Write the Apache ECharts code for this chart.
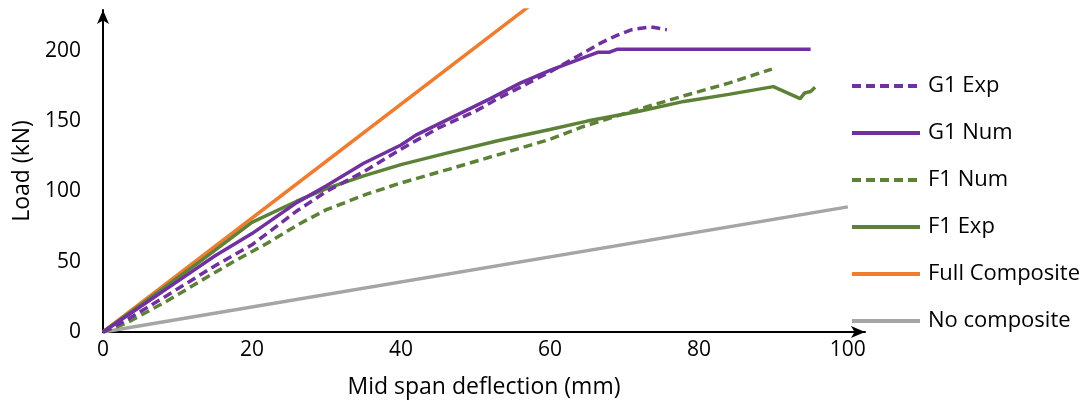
<!DOCTYPE html>
<html>
<head>
<meta charset="utf-8">
<script src="https://cdn.jsdelivr.net/npm/echarts@6/dist/echarts.min.js"></script>
<style>
	html, body { margin: 0; padding: 0; background: #fff; }
	#main { width: 1086px; height: 404px; }
</style>
</head>
<body>
<div id="main"></div>
<script>
	// load-deflection data, [deflection mm, load kN]
	var g1Exp = [[0, 0], [3, 8], [8.6, 26], [15, 47], [20, 62], [26, 86], [30, 100], [35, 114], [40, 130], [45, 145], [50, 157], [53, 166], [56, 174], [60, 185], [64, 197], [67, 206], [69, 211], [71, 215], [73.5, 217], [75.7, 215]];
	var g1Num = [[0, 0], [5, 18], [10, 36], [15, 54], [20, 70], [26, 92], [30, 104], [35, 120], [40, 133], [42, 140], [47, 153], [52, 166], [56, 177], [60, 186], [64, 194], [66.5, 199], [68, 199], [69, 201], [95, 201]];
	var f1Num = [[0, 0], [3, 6], [8.6, 22], [13, 36], [17.5, 50], [22, 63], [26.4, 77], [30, 87], [35.4, 98], [40, 106], [46.6, 116], [53, 126], [60, 137], [64.4, 146], [71, 157], [78, 168], [84, 177], [89.8, 187]];
	var f1Exp = [[0, 0], [6, 23], [13, 50], [20, 78], [26, 93], [30, 102], [35, 111], [40, 119], [46, 127], [53, 136], [60, 144], [65, 150], [72, 157], [78, 164], [84, 169], [90, 174.5], [93.6, 166], [94.2, 170], [95, 171], [95.6, 174]];
	var fullComposite = [[0, 0], [60, 243]];
	var noComposite = [[0, 0], [100, 89]];

	var legendNames = ['G1 Exp', 'G1 Num', 'F1 Num', 'F1 Exp', 'Full Composite', 'No composite'];

	var PURPLE = '#7030A0', GREEN = '#5E8138', ORANGE = '#ED7D31', GREY = '#A5A5A5';
	var FONT = 'Open Sans';

	function line(name, data, color, dashed) {
		return {
			name: name,
			type: 'line',
			data: data,
			symbol: 'none',
			lineStyle: { color: color, width: 3.5, type: dashed ? [9, 5] : 'solid' },
			itemStyle: { color: color }
		};
	}

	var myChart = echarts.init(document.getElementById('main'));

	var option = {
		animation: false,
		textStyle: { fontFamily: FONT },
		grid: { left: 103, right: 221, top: 10, bottom: 71 },
		legend: {
			data: legendNames,
			orient: 'vertical',
			left: 845,
			top: 70,
			itemWidth: 68,
			itemHeight: 14,
			itemGap: 25,
			itemStyle: { opacity: 0 },
			lineStyle: { width: 4 },
			textStyle: { fontSize: 22, color: '#000', fontFamily: FONT, padding: [0, 0, 0, 3] }
		},
		xAxis: {
			type: 'value',
			min: 0,
			max: 102.3,
			interval: 20,
			name: 'Mid span deflection (mm)',
			nameLocation: 'middle',
			nameGap: 44,
			nameTextStyle: { fontSize: 23, color: '#000' },
			axisLine: { lineStyle: { color: '#000', width: 2 }, symbol: ['none', 'arrow'], symbolSize: [9, 14] },
			axisTick: { show: false },
			splitLine: { show: false },
			axisLabel: { fontSize: 21, color: '#000', margin: 8, showMaxLabel: false }
		},
		yAxis: {
			type: 'value',
			min: 0,
			max: 229,
			interval: 50,
			name: 'Load (kN)',
			nameLocation: 'middle',
			nameGap: 69,
			nameRotate: 90,
			nameTextStyle: { fontSize: 23, color: '#000' },
			axisLine: { show: true, lineStyle: { color: '#000', width: 2 }, symbol: ['none', 'arrow'], symbolSize: [9, 14] },
			axisTick: { show: false },
			splitLine: { show: false },
			axisLabel: { fontSize: 21, color: '#000', margin: 22, showMaxLabel: false }
		},
		series: [
			line('No composite', noComposite, GREY, false),
			line('Full Composite', fullComposite, ORANGE, false),
			line('F1 Num', f1Num, GREEN, true),
			line('F1 Exp', f1Exp, GREEN, false),
			line('G1 Exp', g1Exp, PURPLE, true),
			line('G1 Num', g1Num, PURPLE, false)
		]
	};

	myChart.setOption(option);
</script>
</body>
</html>
